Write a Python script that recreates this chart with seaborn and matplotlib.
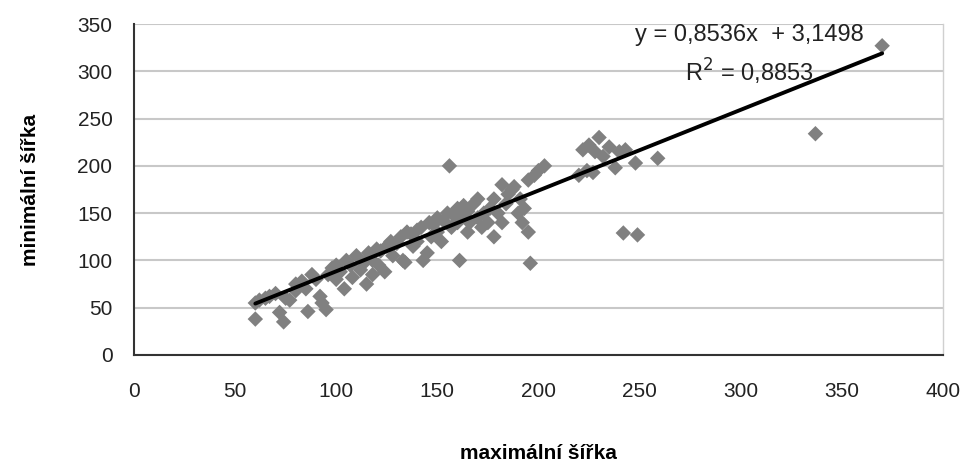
import matplotlib
matplotlib.use("Agg")
import matplotlib.pyplot as plt
import seaborn as sns
import numpy as np
import pandas as pd

max_width = [60, 60, 62, 65, 67, 70, 72, 74, 75, 77, 80, 80, 83, 85, 86, 88, 90, 92, 93, 95,
             96, 98, 100, 100, 102, 104, 105, 107, 108, 110, 112, 114, 115, 116, 118, 118, 120, 121, 122, 124,
             125, 127, 128, 130, 132, 133, 134, 135, 137, 138, 140, 140, 142, 143, 145, 146, 147, 148, 150, 150,
             152, 153, 155, 156, 157, 158, 160, 160, 161, 162, 163, 165, 165, 166, 168, 170, 170, 172, 173, 175,
             176, 178, 178, 180, 182, 182, 184, 185, 187, 188, 190, 191, 192, 193, 195, 195, 196, 198, 200, 203,
             220, 222, 224, 225, 227, 228, 230, 232, 235, 238, 240, 242, 243, 248, 249, 259, 337, 370]
min_width = [55, 38, 58, 60, 62, 65, 45, 35, 60, 58, 68, 75, 78, 70, 46, 85, 80, 62, 55, 48,
             85, 92, 95, 80, 88, 70, 100, 95, 82, 105, 90, 98, 75, 108, 85, 100, 112, 95, 110, 88,
             115, 120, 105, 118, 125, 100, 98, 130, 128, 115, 132, 120, 135, 100, 108, 140, 125, 138, 145, 130,
             120, 142, 150, 200, 135, 148, 155, 140, 100, 145, 158, 152, 130, 140, 160, 165, 145, 135, 150, 140,
             155, 165, 125, 150, 180, 140, 160, 170, 175, 178, 150, 165, 140, 155, 185, 130, 97, 190, 195, 200,
             190, 217, 195, 222, 193, 215, 230, 210, 220, 198, 215, 129, 217, 203, 127, 208, 234, 327]

slope = 0.8536
intercept = 3.1498
eq_text = "y = 0,8536x  + 3,1498"
r2_text = "R$^2$ = 0,8853"

x_ticks = [0, 50, 100, 150, 200, 250, 300, 350, 400]
y_ticks = [0, 50, 100, 150, 200, 250, 300, 350]

df = pd.DataFrame({"max": max_width, "min": min_width})

sns.set_theme(style="white")
plt.rcParams['font.family'] = ['Liberation Sans', 'DejaVu Sans']

fig = plt.figure(figsize=(9.76, 4.71), dpi=100)
ax = fig.add_axes([0.1373, 0.2463, 0.966 - 0.1373, 0.949 - 0.2463])

sns.scatterplot(data=df, x="max", y="min", marker="D", s=62, color="#808080",
                edgecolor="none", linewidth=0, ax=ax, zorder=3)

xs = np.array([min(max_width), max(max_width)])
ax.plot(xs, slope * xs + intercept, color="black", linewidth=2.8, zorder=4)

ax.set_xlim(0, 400)
ax.set_ylim(0, 350)
ax.set_xticks(x_ticks)
ax.set_yticks(y_ticks)
ax.tick_params(axis="both", labelsize=15, colors="#222222", direction="out",
               length=6.5, width=1)
ax.tick_params(axis="x", pad=13)
ax.tick_params(axis="y", pad=9)
for lbl in ax.get_xticklabels() + ax.get_yticklabels():
    lbl.set_color("#222222")

ax.yaxis.grid(True, color="#c8c8c8", linewidth=1.5)
ax.xaxis.grid(False)
ax.set_axisbelow(True)
for side in ["left", "bottom"]:
    ax.spines[side].set_color("#333333")
    ax.spines[side].set_linewidth(1.5)
ax.spines["top"].set_visible(False)
ax.spines["right"].set_color("#d0d0d0")
ax.spines["right"].set_linewidth(1)

ax.set_xlabel("maximální šířka", fontsize=15, fontweight="bold", labelpad=31, color="black")
ax.set_ylabel("minimální šířka", fontsize=15, fontweight="bold", labelpad=27, color="black")

ax.text(304.5, 338, eq_text, ha="center", va="center", fontsize=17, color="#222222", zorder=5)
ax.text(304.5, 299, r2_text, ha="center", va="center", fontsize=17, color="#222222", zorder=5)

fig.savefig("out.png", dpi=100, facecolor="white")
